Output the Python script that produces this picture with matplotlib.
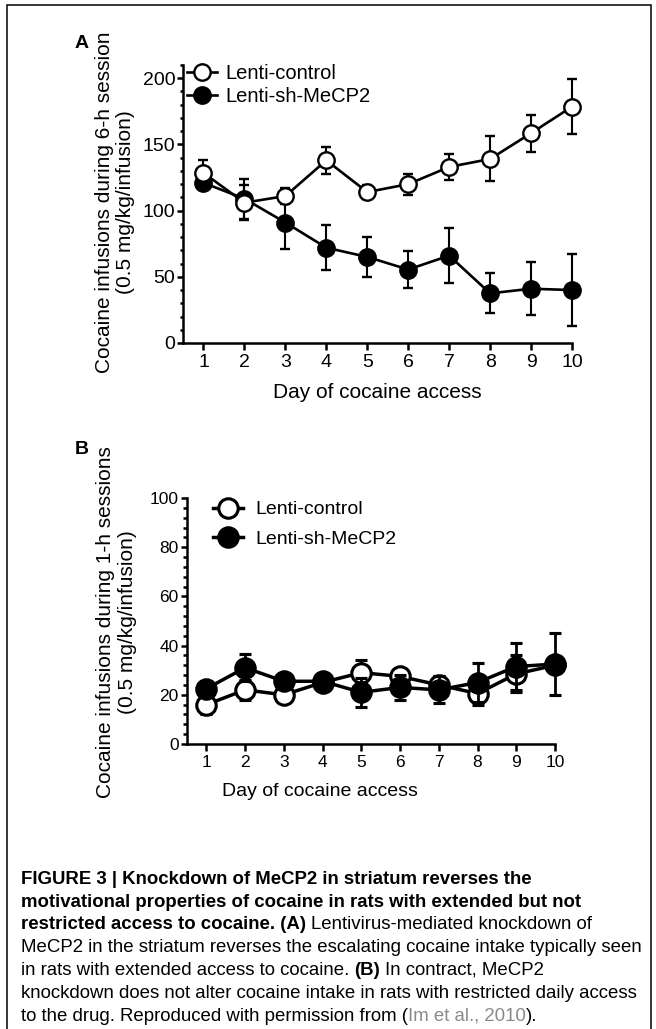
import matplotlib
matplotlib.use('Agg')
import matplotlib.pyplot as plt
from matplotlib.lines import Line2D
from matplotlib.patches import Rectangle
from matplotlib.ticker import MultipleLocator

# ---------------- data ----------------
days = [1, 2, 3, 4, 5, 6, 7, 8, 9, 10]

a_ctrl_mean = [128.5, 106, 111, 138, 114, 120, 133, 139, 158.5, 178.5]
a_ctrl_sem = [10, 13, 6, 10, 5, 8, 10, 17, 14, 21]
a_sh_mean = [121, 109, 91, 72, 65, 55.5, 66, 37.5, 41, 40]
a_sh_sem = [5, 15, 20, 17, 15, 14, 21, 15, 20, 27]

b_ctrl_mean = [16, 22, 20, 25, 29, 27.5, 24, 20.5, 28.5, 32]
b_ctrl_sem = [4, 4, 2, 2, 5, 2, 3.5, 4.5, 7.5, 3]
b_sh_mean = [22.5, 31, 25.5, 25.5, 21, 23, 22, 25, 31.5, 32.5]
b_sh_sem = [2, 5.5, 2, 2, 6, 5, 5.5, 8, 9.5, 12.5]

series_labels = ['Lenti-control', 'Lenti-sh-MeCP2']
xlabel = 'Day of cocaine access'
ylabel_a = 'Cocaine infusions during 6-h session\n(0.5 mg/kg/infusion)'
ylabel_b = 'Cocaine infusions during 1-h sessions\n(0.5 mg/kg/infusion)'

# ---------------- figure ----------------
plt.rcParams['font.family'] = ['Liberation Sans', 'DejaVu Sans']
W, H = 656, 1029
fig = plt.figure(figsize=(W / 100, H / 100), dpi=100)


def px_axes(l, t, r, b):
    return fig.add_axes([l / W, 1 - b / H, (r - l) / W, (b - t) / H])


def style_axes(ax, spine_lw, ymaj, ymin, ylen, xlen, lsize):
    for s in ['top', 'right']:
        ax.spines[s].set_visible(False)
    for s in ['left', 'bottom']:
        ax.spines[s].set_linewidth(spine_lw)
    ax.yaxis.set_major_locator(MultipleLocator(ymaj))
    ax.yaxis.set_minor_locator(MultipleLocator(ymin))
    ax.set_xticks(days)
    ax.tick_params(axis='y', which='major', length=ylen, width=spine_lw,
                   labelsize=lsize, pad=1.5)
    ax.tick_params(axis='y', which='minor', length=ylen * 0.6, width=spine_lw)
    ax.tick_params(axis='x', which='major', length=xlen, width=spine_lw,
                   labelsize=lsize, pad=3)


def draw_series(ax, y, e, filled, ms, lw, cap, z):
    cont = ax.errorbar(days, y, yerr=e, fmt='-o', color='black',
                       mfc='black' if filled else 'white', mec='black',
                       ms=ms, mew=lw * 0.9, lw=lw, elinewidth=lw * 0.8,
                       capsize=cap, capthick=lw * 0.8, zorder=z, clip_on=False)
    for art in list(cont.lines[1]) + list(cont.lines[2]):
        art.set_clip_on(False)
    return cont


def legend_handles(ms, lw):
    return [Line2D([], [], color='black', lw=lw, marker='o', ms=ms,
                   mfc=fc, mec='black', mew=lw * 0.9)
            for fc in ['white', 'black']]


# ---- Panel A ----
axA = px_axes(183, 65, 572, 343)
axA.set_xlim(0.5, 10)
axA.set_ylim(0, 210)
style_axes(axA, 1.8, 50, 10, 4, 5, 14)
draw_series(axA, a_sh_mean, a_sh_sem, True, 11.8, 1.9, 3.6, 3)
draw_series(axA, a_ctrl_mean, a_ctrl_sem, False, 11.8, 1.9, 3.6, 4)
axA.legend(legend_handles(11.8, 1.9), series_labels, loc='upper left',
           bbox_to_anchor=(0.0103, 1.002), frameon=False, fontsize=14.5,
           handlelength=1.5, handletextpad=0.4, labelspacing=0.2,
           borderpad=0, borderaxespad=0)

# ---- Panel B ----
axB = px_axes(187, 498, 555, 744)
axB.set_xlim(0.5, 10)
axB.set_ylim(0, 100)
style_axes(axB, 1.8, 20, 4, 4.5, 5, 12.5)
draw_series(axB, b_ctrl_mean, b_ctrl_sem, False, 14, 2.5, 4.3, 3)
draw_series(axB, b_sh_mean, b_sh_sem, True, 14, 2.5, 4.3, 4)
axB.legend(legend_handles(14, 2.5), series_labels, loc='upper left',
           bbox_to_anchor=(0.0707, 0.989), frameon=False, fontsize=14,
           handlelength=1.55, handletextpad=0.65, labelspacing=0.6,
           borderpad=0, borderaxespad=0)

# ---- axis labels & panel letters ----
fig.text(115 / W, 1 - 202 / H, ylabel_a, rotation=90, ha='center', va='center',
         fontsize=15, linespacing=1.15, multialignment='center')
fig.text(116.5 / W, 1 - 622 / H, ylabel_b, rotation=90, ha='center', va='center',
         fontsize=15, linespacing=1.15, multialignment='center')
fig.text(377 / W, 1 - 393 / H, xlabel, ha='center', va='center', fontsize=15)
fig.text(320 / W, 1 - 792 / H, xlabel, ha='center', va='center', fontsize=14)
fig.text(82 / W, 1 - 44 / H, 'A', ha='center', va='center', fontsize=14,
         fontweight='bold')
fig.text(82 / W, 1 - 450 / H, 'B', ha='center', va='center', fontsize=14,
         fontweight='bold')

# ---- frame ----
fig.add_artist(Rectangle((7 / W, -0.01), (651 - 7) / W, (1029 - 5) / H + 0.01,
                         transform=fig.transFigure, fill=False,
                         edgecolor='black', lw=1.1))

# ---- caption ----
caption_lines = [
    [('FIGURE 3 | Knockdown of MeCP2 in striatum reverses the', 'bold', 'black')],
    [('motivational properties of cocaine in rats with extended but not', 'bold', 'black')],
    [('restricted access to cocaine. (A)', 'bold', 'black'),
     ('Lentivirus-mediated knockdown of', 'normal', 'black')],
    [('MeCP2 in the striatum reverses the escalating cocaine intake typically seen', 'normal', 'black')],
    [('in rats with extended access to cocaine.', 'normal', 'black'),
     ('(B)', 'bold', 'black'),
     ('In contract, MeCP2', 'normal', 'black')],
    [('knockdown does not alter cocaine intake in rats with restricted daily access', 'normal', 'black')],
    [('to the drug. Reproduced with permission from (', 'normal', 'black'),
     ('Im et al., 2010', 'normal', '#8a8a8a'),
     (').', 'normal', 'black')],
]

renderer = fig.canvas.get_renderer()
cap_family = ['Liberation Sans Narrow', 'Liberation Sans']


def text_width(s, size, weight):
    t = fig.text(0, 0, s, fontsize=size, fontweight=weight, family=cap_family)
    w = t.get_window_extent(renderer=renderer).width
    t.remove()
    return w


cap_size = 12 * 624 / text_width(caption_lines[3][0][0], 12, 'normal')
x0 = 21
y_first = 877
dy = 22.8
for i, segs in enumerate(caption_lines):
    ybase = y_first + i * dy + 0.36 * cap_size * 100 / 72
    x = x0
    for j, (txt, weight, color) in enumerate(segs):
        if j > 0 and not segs[j - 1][0].endswith('(') and not txt.startswith(')'):
            x += text_width('a a', cap_size, 'normal') - text_width('aa', cap_size, 'normal')
        t = fig.text(x / W, 1 - ybase / H, txt, fontsize=cap_size,
                     fontweight=weight, color=color, ha='left', va='baseline',
                     family=cap_family)
        bb = t.get_window_extent(renderer=renderer)
        x = bb.x1

fig.savefig('out.png', dpi=100)
